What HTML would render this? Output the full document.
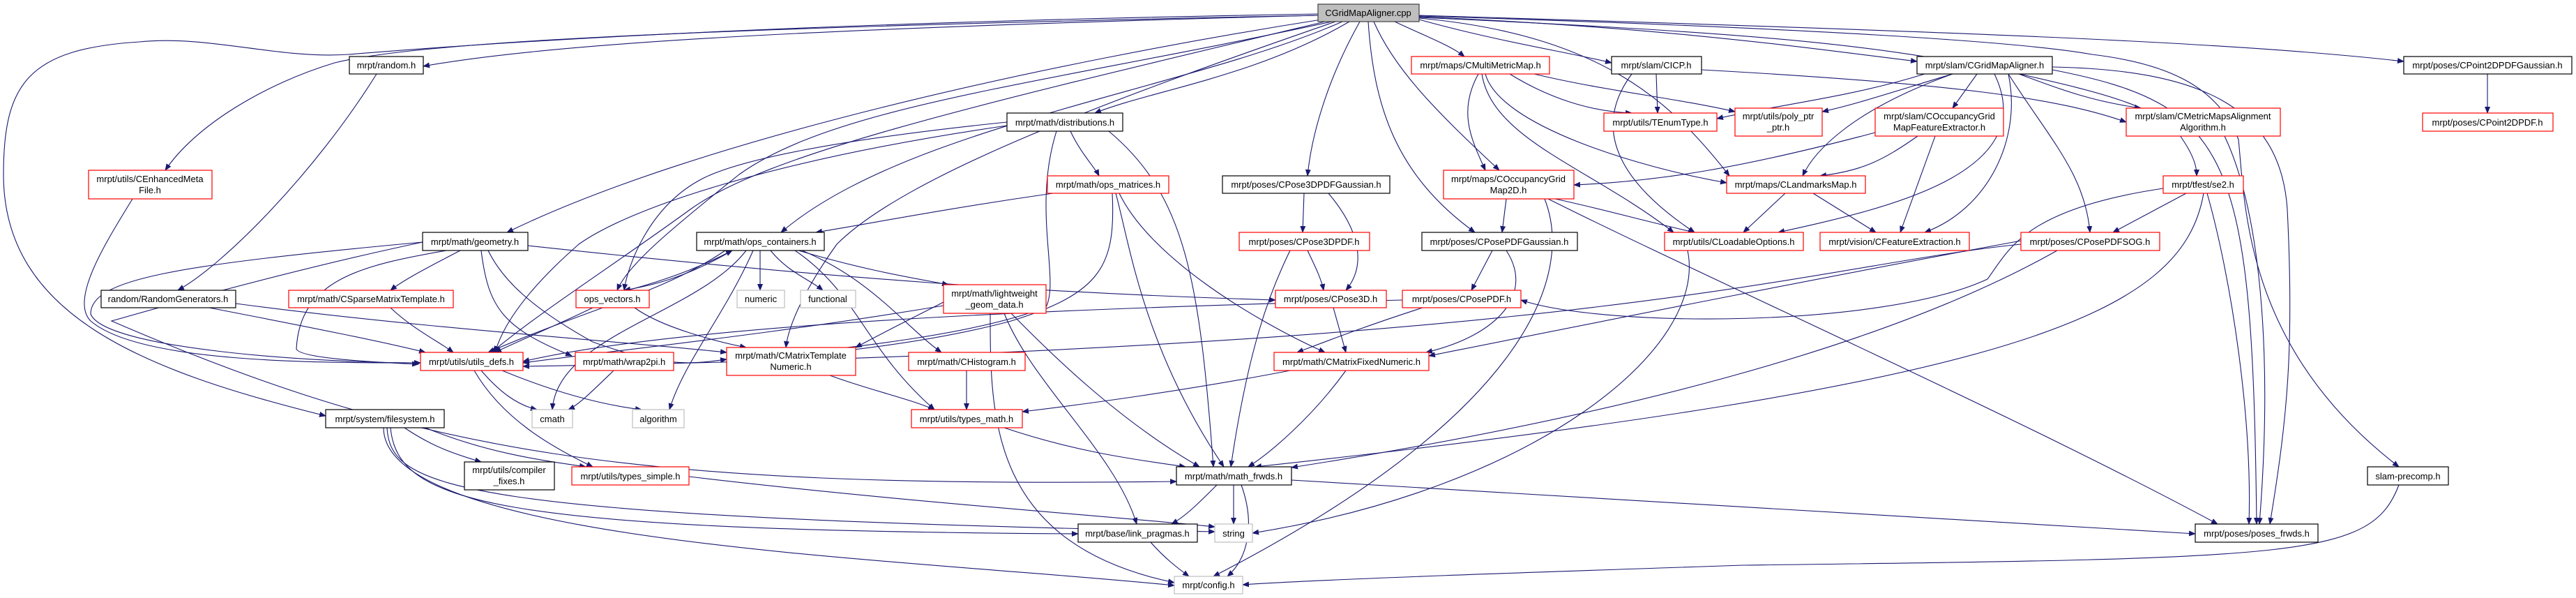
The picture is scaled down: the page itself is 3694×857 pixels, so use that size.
<!DOCTYPE html>
<html><head><meta charset="utf-8"><style>
html,body{margin:0;padding:0;background:#fff;}
svg{display:block;}
text{font-family:"Liberation Sans",sans-serif;font-size:13px;fill:#000;}
.e{fill:none;stroke:#191970;stroke-width:1.1;}
.r{fill:#fff;stroke:#ff0000;stroke-width:1.2;}
.b{fill:#fff;stroke:#000;stroke-width:1.2;}
.g{fill:#fff;stroke:#bfbfbf;stroke-width:1.2;}
</style></head><body>
<svg width="3694" height="857" viewBox="0 0 3694 857" xmlns="http://www.w3.org/2000/svg">
<defs><marker id="a" markerWidth="10" markerHeight="8" refX="9" refY="4" orient="auto" markerUnits="userSpaceOnUse"><path d="M0,0 L10,4 L0,8 z" fill="#191970"/></marker></defs>
<g class="e" marker-end="url(#a)">
<!-- from cpp -->
<path d="M1890,22 C1200,40 800,60 607,95"/>
<path d="M1890,20 C1000,35 600,70 500,78 C400,85 300,50 200,60 C40,70 5,120 5,250 C5,450 200,530 467,596"/>
<path d="M1890,22 C1000,40 600,60 480,90 C380,120 280,180 237,244"/>
<path d="M1895,28 C1500,90 1000,200 727,333"/>
<path d="M1925,31 C1700,130 1300,180 1120,333"/>
<path d="M1935,31 C1800,110 1650,130 1570,162"/>
<path d="M1950,31 C1900,120 1880,200 1875,252"/>
<path d="M1962,31 C1970,150 2000,250 2115,333"/>
<path d="M1970,31 C2000,100 2060,160 2150,244"/>
<path d="M2000,31 C2040,50 2080,65 2100,81"/>
<path d="M2035,28 C2150,60 2250,75 2311,90"/>
<path d="M2035,24 C2400,40 2600,70 2749,88"/>
<path d="M2035,22 C2800,45 3200,60 3447,88"/>
<path d="M2035,26 C2300,50 2400,150 2480,252"/>
<path d="M2035,25 C2600,50 2700,70 2870,100 C3000,130 3100,150 3130,200 C3150,230 3150,245 3150,252"/>
<path d="M2035,23 C2600,40 2900,60 3000,78 C3100,90 3180,120 3210,200 C3220,300 3220,500 3440,669"/>
<path d="M1910,31 C1500,120 1200,150 1060,250 C960,330 900,380 885,416"/>
<path d="M1900,31 C1400,150 1100,220 990,300 C880,380 770,450 705,505"/>
<path d="M1915,31 C1600,140 1300,250 1200,350 C1150,420 1130,470 1127,498"/>
<!-- random -->
<path d="M540,106 C450,250 320,380 255,416"/>
<!-- CEMF -->
<path d="M190,285 C150,350 100,430 130,460 C200,520 450,520 603,520"/>
<!-- RG -->
<path d="M300,441 C450,470 550,490 610,505"/>
<path d="M338,435 C600,470 900,490 1042,505"/>
<!-- geometry -->
<path d="M640,359 C520,380 430,400 425,500 C430,515 560,520 600,522"/>
<path d="M660,359 C620,380 580,400 560,416"/>
<path d="M690,359 C700,440 720,470 820,510"/>
<path d="M700,359 C720,400 760,440 850,490 C960,530 1000,520 1042,515"/>
<path d="M757,352 C1200,400 1500,420 1829,430"/>
<path d="M606,347 C250,380 130,400 130,450 C150,500 450,520 603,520"/>
<path d="M606,347 C450,380 300,420 160,460 C600,650 900,700 1687,690"/>
<!-- ops_containers -->
<path d="M1050,359 C980,400 930,410 895,416"/>
<path d="M900,416 C960,400 1010,380 1050,359"/>
<path d="M1090,359 L1090,416"/>
<path d="M1105,359 C1130,390 1160,400 1180,416"/>
<path d="M1145,359 C1250,390 1320,400 1360,408"/>
<path d="M1150,359 C1250,400 1300,470 1350,505"/>
<path d="M1140,359 C1230,420 1240,500 1340,587"/>
<path d="M1070,359 C1000,450 800,480 792,587"/>
<path d="M1080,359 C1040,450 980,520 960,587"/>
<path d="M1040,359 C950,420 850,440 700,505"/>
<!-- ops_vectors -->
<path d="M850,441 C790,470 740,490 710,505"/>
<path d="M910,441 C950,470 1030,490 1070,498"/>
<!-- CSMT -->
<path d="M560,441 C590,470 630,490 650,505"/>
<!-- utils_defs -->
<path d="M690,531 C715,560 740,580 770,587"/>
<path d="M720,531 C790,560 860,580 920,587"/>
<path d="M680,531 C720,600 790,640 850,669"/>
<!-- wrap2pi -->
<path d="M880,531 C850,560 830,580 815,587"/>
<!-- CMTN -->
<path d="M1190,538 C1250,560 1300,570 1340,587"/>
<!-- filesystem -->
<path d="M580,613 C620,640 650,650 690,662"/>
<path d="M610,613 C700,650 780,660 840,669"/>
<path d="M555,613 C560,700 650,740 1742,762"/>
<path d="M560,613 C570,720 700,760 1546,765"/>
<path d="M550,613 C550,780 1300,800 1684,839"/>
<!-- types_simple -->
<path d="M988,683 C1300,720 1600,740 1742,755"/>
<!-- distributions -->
<path d="M1535,188 C1550,220 1570,240 1576,252"/>
<path d="M1444,175 C1200,200 1050,230 1000,260 C930,300 900,380 895,416"/>
<path d="M1444,180 C1100,230 900,300 830,350 C750,420 720,470 710,505"/>
<path d="M1515,188 C1480,300 1520,400 1500,440 C1400,480 1200,500 1150,505"/>
<path d="M1590,188 C1700,280 1720,400 1740,669"/>
<!-- ops_matrices -->
<path d="M1510,277 C1350,300 1250,320 1170,333"/>
<path d="M1600,277 C1620,350 1640,500 1755,669"/>
<path d="M1605,277 C1650,370 1800,460 1900,505"/>
<path d="M1595,277 C1600,380 1580,420 1450,460 C1300,500 1100,515 1042,515"/>
<!-- CPose3DPDFGaussian -->
<path d="M1870,277 L1868,333"/>
<path d="M1905,277 C1950,330 1960,380 1930,416"/>
<!-- CPose3DPDF -->
<path d="M1850,359 C1820,420 1790,500 1765,669"/>
<path d="M1875,359 C1885,380 1895,400 1898,416"/>
<!-- CPose3D -->
<path d="M1912,441 L1930,505"/>
<!-- lightweight -->
<path d="M1450,449 C1500,500 1600,600 1720,669"/>
<path d="M1440,449 C1480,550 1600,650 1630,751"/>
<path d="M1420,449 C1420,600 1420,780 1684,835"/>
<path d="M1353,438 C1100,480 900,500 750,520"/>
<path d="M1353,433 C1300,460 1260,480 1227,498"/>
<!-- CHistogram -->
<path d="M1386,531 L1386,587"/>
<!-- types_math -->
<path d="M1440,613 C1550,650 1640,660 1700,669"/>
<!-- CMFN -->
<path d="M1850,531 C1700,560 1550,580 1466,590"/>
<path d="M1930,531 C1880,600 1820,650 1790,669"/>
<!-- math_frwds -->
<path d="M1745,695 C1720,720 1700,740 1680,751"/>
<path d="M1769,695 L1769,751"/>
<path d="M1780,695 C1800,750 1790,800 1760,826"/>
<path d="M1852,688 C2400,720 2900,750 3148,765"/>
<!-- link_pragmas -->
<path d="M1650,777 C1670,800 1690,815 1705,826"/>
<!-- CMultiMetricMap -->
<path d="M2165,106 C2220,140 2280,160 2340,162"/>
<path d="M2120,106 C2090,160 2110,200 2130,244"/>
<path d="M2125,106 C2140,200 2280,240 2400,333"/>
<path d="M2130,106 C2150,180 2350,240 2476,262"/>
<path d="M2200,106 C2300,130 2400,140 2488,160"/>
<!-- CICP -->
<path d="M2375,106 L2377,162"/>
<path d="M2340,106 C2270,200 2350,280 2430,333"/>
<path d="M2440,100 C2800,120 2950,140 3049,175"/>
<!-- COGM2D -->
<path d="M2160,285 L2154,333"/>
<path d="M2230,285 C2300,300 2370,320 2430,333"/>
<path d="M2215,285 C2260,400 2180,600 1740,826"/>
<path d="M2220,285 C2450,400 2900,600 3180,751"/>
<!-- CPosePDFGaussian -->
<path d="M2140,359 L2110,416"/>
<path d="M2160,359 C2200,420 2150,480 2045,505"/>
<!-- CPosePDF -->
<path d="M2011,430 C1600,440 1000,460 750,518"/>
<path d="M2040,441 C1950,470 1900,490 1860,505"/>
<!-- CLoadableOptions -->
<path d="M2420,359 C2450,500 2200,700 1796,764"/>
<!-- CGridMapAligner.h -->
<path d="M2760,106 C2650,140 2550,150 2462,170"/>
<path d="M2800,106 C2720,130 2660,150 2613,160"/>
<path d="M2835,106 L2800,155"/>
<path d="M2800,106 C2650,160 2600,220 2585,252"/>
<path d="M2860,106 C2930,250 2700,300 2550,333"/>
<path d="M2880,106 C2900,200 2850,300 2760,333"/>
<path d="M2880,106 C2940,200 2990,250 2997,333"/>
<path d="M2895,106 C2960,130 3000,145 3070,155"/>
<path d="M2943,100 C3200,150 3230,220 3236,751"/>
<path d="M2943,96 C3150,100 3270,150 3280,300 C3290,500 3280,600 3255,751"/>
<!-- COGMFE -->
<path d="M2750,195 C2700,230 2670,245 2610,252"/>
<path d="M2775,195 L2725,333"/>
<path d="M2689,190 C2500,240 2380,260 2257,265"/>
<!-- CLandmarksMap -->
<path d="M2560,277 L2500,333"/>
<path d="M2600,277 L2690,333"/>
<!-- CMetricMapsAA -->
<path d="M3190,195 C3240,300 3260,500 3240,751"/>
<!-- se2 -->
<path d="M3135,277 L3030,333"/>
<path d="M3102,270 C2900,300 2880,360 2850,400 C2700,470 2300,470 2181,430"/>
<path d="M3160,277 C3130,450 2900,550 1800,669"/>
<path d="M3165,277 C3200,400 3230,600 3225,751"/>
<!-- CPosePDFSOG -->
<path d="M2898,345 C2600,400 2300,460 2049,510"/>
<path d="M2950,359 C2700,500 2300,600 1852,670"/>
<path d="M2898,350 C2600,380 2300,500 750,525"/>
<!-- CPoint2DPDFGaussian -->
<path d="M3567,106 L3567,162"/>
<!-- slam precomp -->
<path d="M3440,695 C3400,800 3300,800 2500,810 C2200,820 1900,830 1782,838"/>
</g>
<!-- nodes -->
<g>
<rect x="1890" y="6" width="145" height="25" fill="#bfbfbf" stroke="#404040" stroke-width="1.2"/><text x="1962" y="23" text-anchor="middle">CGridMapAligner.cpp</text>
<rect class="b" x="501" y="81" width="106" height="25"/><text x="554" y="98" text-anchor="middle">mrpt/random.h</text>
<rect class="r" x="2024" y="81" width="198" height="25"/><text x="2123" y="98" text-anchor="middle">mrpt/maps/CMultiMetricMap.h</text>
<rect class="b" x="2311" y="81" width="129" height="25"/><text x="2375" y="98" text-anchor="middle">mrpt/slam/CICP.h</text>
<rect class="b" x="2749" y="81" width="194" height="25"/><text x="2846" y="98" text-anchor="middle">mrpt/slam/CGridMapAligner.h</text>
<rect class="b" x="3447" y="81" width="241" height="25"/><text x="3567" y="98" text-anchor="middle">mrpt/poses/CPoint2DPDFGaussian.h</text>
<rect class="r" x="127" y="244" width="177" height="41"/><text x="215" y="261" text-anchor="middle">mrpt/utils/CEnhancedMeta</text><text x="215" y="277" text-anchor="middle">File.h</text>
<rect class="b" x="1444" y="162" width="166" height="26"/><text x="1527" y="180" text-anchor="middle">mrpt/math/distributions.h</text>
<rect class="r" x="2300" y="162" width="162" height="26"/><text x="2381" y="180" text-anchor="middle">mrpt/utils/TEnumType.h</text>
<rect class="r" x="2488" y="155" width="125" height="40"/><text x="2550" y="171" text-anchor="middle">mrpt/utils/poly_ptr</text><text x="2550" y="187" text-anchor="middle">_ptr.h</text>
<rect class="r" x="2689" y="155" width="184" height="40"/><text x="2781" y="171" text-anchor="middle">mrpt/slam/COccupancyGrid</text><text x="2781" y="187" text-anchor="middle">MapFeatureExtractor.h</text>
<rect class="r" x="3049" y="155" width="221" height="40"/><text x="3159" y="171" text-anchor="middle">mrpt/slam/CMetricMapsAlignment</text><text x="3159" y="187" text-anchor="middle">Algorithm.h</text>
<rect class="r" x="3474" y="162" width="187" height="26"/><text x="3567" y="180" text-anchor="middle">mrpt/poses/CPoint2DPDF.h</text>
<rect class="b" x="606" y="333" width="151" height="26"/><text x="681" y="351" text-anchor="middle">mrpt/math/geometry.h</text>
<rect class="b" x="999" y="333" width="183" height="26"/><text x="1090" y="351" text-anchor="middle">mrpt/math/ops_containers.h</text>
<rect class="r" x="1502" y="252" width="174" height="25"/><text x="1589" y="269" text-anchor="middle">mrpt/math/ops_matrices.h</text>
<rect class="b" x="1753" y="252" width="240" height="25"/><text x="1873" y="269" text-anchor="middle">mrpt/poses/CPose3DPDFGaussian.h</text>
<rect class="r" x="2070" y="244" width="187" height="41"/><text x="2163" y="261" text-anchor="middle">mrpt/maps/COccupancyGrid</text><text x="2163" y="277" text-anchor="middle">Map2D.h</text>
<rect class="r" x="2476" y="252" width="199" height="25"/><text x="2575" y="269" text-anchor="middle">mrpt/maps/CLandmarksMap.h</text>
<rect class="r" x="3102" y="252" width="115" height="25"/><text x="3159" y="269" text-anchor="middle">mrpt/tfest/se2.h</text>
<rect class="r" x="1777" y="333" width="187" height="26"/><text x="1870" y="351" text-anchor="middle">mrpt/poses/CPose3DPDF.h</text>
<rect class="b" x="2039" y="333" width="223" height="26"/><text x="2150" y="351" text-anchor="middle">mrpt/poses/CPosePDFGaussian.h</text>
<rect class="r" x="2387" y="333" width="199" height="26"/><text x="2486" y="351" text-anchor="middle">mrpt/utils/CLoadableOptions.h</text>
<rect class="r" x="2610" y="333" width="214" height="26"/><text x="2717" y="351" text-anchor="middle">mrpt/vision/CFeatureExtraction.h</text>
<rect class="r" x="2898" y="333" width="199" height="26"/><text x="2997" y="351" text-anchor="middle">mrpt/poses/CPosePDFSOG.h</text>
<rect class="b" x="145" y="416" width="193" height="25"/><text x="241" y="433" text-anchor="middle">random/RandomGenerators.h</text>
<rect class="r" x="414" y="416" width="236" height="25"/><text x="532" y="433" text-anchor="middle">mrpt/math/CSparseMatrixTemplate.h</text>
<rect class="r" x="826" y="416" width="105" height="25"/><text x="878" y="433" text-anchor="middle">ops_vectors.h</text>
<rect class="g" x="1057" y="416" width="68" height="25"/><text x="1091" y="433" text-anchor="middle">numeric</text>
<rect class="g" x="1148" y="416" width="79" height="25"/><text x="1187" y="433" text-anchor="middle">functional</text>
<rect class="r" x="1353" y="408" width="147" height="41"/><text x="1426" y="425" text-anchor="middle">mrpt/math/lightweight</text><text x="1426" y="441" text-anchor="middle">_geom_data.h</text>
<rect class="r" x="1829" y="416" width="159" height="25"/><text x="1908" y="433" text-anchor="middle">mrpt/poses/CPose3D.h</text>
<rect class="r" x="2011" y="416" width="170" height="25"/><text x="2096" y="433" text-anchor="middle">mrpt/poses/CPosePDF.h</text>
<rect class="r" x="603" y="505" width="147" height="26"/><text x="676" y="523" text-anchor="middle">mrpt/utils/utils_defs.h</text>
<rect class="r" x="825" y="505" width="141" height="26"/><text x="895" y="523" text-anchor="middle">mrpt/math/wrap2pi.h</text>
<rect class="r" x="1042" y="498" width="185" height="40"/><text x="1134" y="514" text-anchor="middle">mrpt/math/CMatrixTemplate</text><text x="1134" y="530" text-anchor="middle">Numeric.h</text>
<rect class="r" x="1303" y="505" width="167" height="26"/><text x="1386" y="523" text-anchor="middle">mrpt/math/CHistogram.h</text>
<rect class="r" x="1827" y="505" width="222" height="26"/><text x="1938" y="523" text-anchor="middle">mrpt/math/CMatrixFixedNumeric.h</text>
<rect class="g" x="763" y="587" width="58" height="26"/><text x="792" y="605" text-anchor="middle">cmath</text>
<rect class="g" x="907" y="587" width="74" height="26"/><text x="944" y="605" text-anchor="middle">algorithm</text>
<rect class="b" x="467" y="587" width="170" height="26"/><text x="552" y="605" text-anchor="middle">mrpt/system/filesystem.h</text>
<rect class="r" x="1307" y="587" width="159" height="26"/><text x="1386" y="605" text-anchor="middle">mrpt/utils/types_math.h</text>
<rect class="b" x="666" y="662" width="129" height="40"/><text x="730" y="678" text-anchor="middle">mrpt/utils/compiler</text><text x="730" y="694" text-anchor="middle">_fixes.h</text>
<rect class="r" x="820" y="669" width="168" height="26"/><text x="904" y="687" text-anchor="middle">mrpt/utils/types_simple.h</text>
<rect class="b" x="1687" y="669" width="165" height="26"/><text x="1769" y="687" text-anchor="middle">mrpt/math/math_frwds.h</text>
<rect class="b" x="3395" y="669" width="116" height="26"/><text x="3453" y="687" text-anchor="middle">slam-precomp.h</text>
<rect class="b" x="1546" y="751" width="171" height="26"/><text x="1631" y="769" text-anchor="middle">mrpt/base/link_pragmas.h</text>
<rect class="g" x="1742" y="751" width="54" height="26"/><text x="1769" y="769" text-anchor="middle">string</text>
<rect class="b" x="3148" y="751" width="176" height="26"/><text x="3236" y="769" text-anchor="middle">mrpt/poses/poses_frwds.h</text>
<rect class="g" x="1684" y="826" width="98" height="25"/><text x="1733" y="843" text-anchor="middle">mrpt/config.h</text>
</g>
</svg>
</body></html>
